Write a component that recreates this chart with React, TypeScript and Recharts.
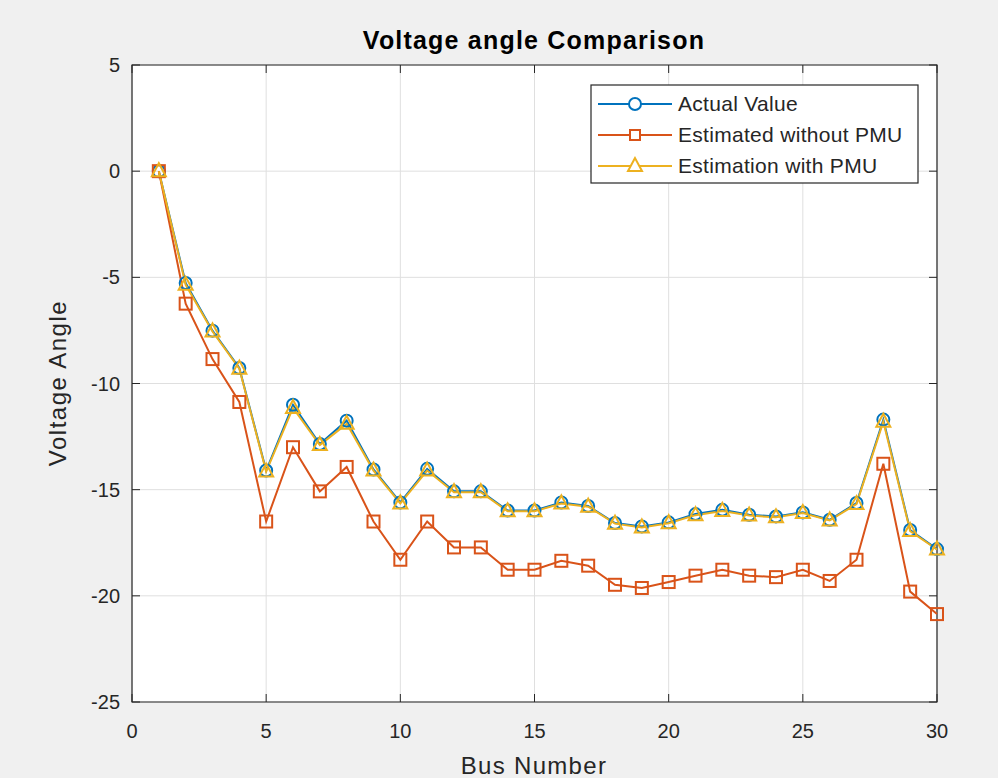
import { LineChart, Line, XAxis, YAxis, CartesianGrid, ReferenceArea } from "recharts";

const busNumbers = [1, 2, 3, 4, 5, 6, 7, 8, 9, 10, 11, 12, 13, 14, 15, 16, 17, 18, 19, 20, 21, 22, 23, 24, 25, 26, 27, 28, 29, 30];
const actualValue = [0, -5.27, -7.51, -9.27, -14.1, -11.0, -12.85, -11.75, -14.05, -15.6, -14.02, -15.08, -15.08, -15.98, -15.98, -15.6, -15.77, -16.57, -16.73, -16.54, -16.15, -15.95, -16.18, -16.26, -16.07, -16.42, -15.63, -11.7, -16.9, -17.8];
const estimatedWithoutPmu = [0, -6.24, -8.85, -10.87, -16.5, -13.0, -15.08, -13.93, -16.5, -18.3, -16.5, -17.72, -17.72, -18.77, -18.77, -18.35, -18.58, -19.48, -19.63, -19.35, -19.05, -18.77, -19.05, -19.12, -18.77, -19.3, -18.3, -13.78, -19.8, -20.86];
const estimationWithPmu = [0, -5.35, -7.55, -9.3, -14.15, -11.15, -12.9, -11.9, -14.1, -15.65, -14.1, -15.12, -15.12, -16.02, -16.02, -15.65, -15.8, -16.6, -16.78, -16.58, -16.2, -16.0, -16.22, -16.3, -16.1, -16.45, -15.68, -11.8, -16.95, -17.82];
const xTicks = [0, 5, 10, 15, 20, 25, 30];
const yTicks = [5, 0, -5, -10, -15, -20, -25];

const BLUE = "#0072BD";
const RED = "#D95319";
const YELLOW = "#EDB120";
const AXIS = "#262626";
const FONT = '"Liberation Sans", Arial, Helvetica, sans-serif';

// plot box (used only for the inward tick marks)
const PLOT_TOP = 65;
const PLOT_RIGHT = 937;

const data = busNumbers.map((bus, i) => ({
    bus,
    actual: actualValue[i],
    withoutPmu: estimatedWithoutPmu[i],
    withPmu: estimationWithPmu[i],
}));

const renderXTick = (p: any) => (
    <g key={`xt-${p.payload.value}`}>
        <line x1={p.x} y1={p.y} x2={p.x} y2={p.y - 8} stroke={AXIS} />
        <line x1={p.x} y1={PLOT_TOP} x2={p.x} y2={PLOT_TOP + 8} stroke={AXIS} />
        <text x={p.x} y={p.y + 36} textAnchor="middle" fontSize={20} fill={AXIS} fontFamily={FONT}>
            {p.payload.value}
        </text>
    </g>
);

const renderYTick = (p: any) => (
    <g key={`yt-${p.payload.value}`}>
        <line x1={p.x} y1={p.y} x2={p.x + 8} y2={p.y} stroke={AXIS} />
        <line x1={PLOT_RIGHT} y1={p.y} x2={PLOT_RIGHT - 8} y2={p.y} stroke={AXIS} />
        <text x={p.x - 12} y={p.y + 7} textAnchor="end" fontSize={20} fill={AXIS} fontFamily={FONT}>
            {p.payload.value}
        </text>
    </g>
);

const squareDot = (p: any) => (
    <rect key={`sq-${p.index}`} x={p.cx - 6} y={p.cy - 6} width={12} height={12} fill="none" stroke={RED} strokeWidth={2} />
);

const triangleDot = (p: any) => (
    <polygon
        key={`tr-${p.index}`}
        points={`${p.cx},${p.cy - 8} ${p.cx - 7},${p.cy + 5} ${p.cx + 7},${p.cy + 5}`}
        fill="none"
        stroke={YELLOW}
        strokeWidth={2}
    />
);

const legendItems = [
    { name: "Actual Value", color: BLUE, marker: "circle" },
    { name: "Estimated without PMU", color: RED, marker: "square" },
    { name: "Estimation with PMU", color: YELLOW, marker: "triangle" },
];

export default function App() {
    return (
        <div style={{ position: "absolute", left: 0, top: 0, width: 998, height: 778, background: "#f0f0f0", fontFamily: FONT }}>
            <LineChart width={998} height={778} data={data} margin={{ top: 65, right: 61, bottom: 36, left: 72 }}>
                <CartesianGrid stroke="#dfdfdf" fill="#ffffff" />
                <XAxis
                    dataKey="bus"
                    type="number"
                    domain={[0, 30]}
                    ticks={xTicks}
                    interval={0}
                    height={40}
                    tickSize={0}
                    tickMargin={0}
                    axisLine={false}
                    tickLine={false}
                    tick={renderXTick}
                />
                <YAxis
                    type="number"
                    domain={[-25, 5]}
                    ticks={yTicks}
                    interval={0}
                    width={60}
                    tickSize={0}
                    tickMargin={0}
                    axisLine={false}
                    tickLine={false}
                    tick={renderYTick}
                />
                <ReferenceArea x1={0} x2={30} y1={-25} y2={5} fill="none" stroke={AXIS} strokeWidth={1.2} />
                <Line
                    dataKey="actual"
                    stroke={BLUE}
                    strokeWidth={2}
                    dot={{ r: 6, fill: "none", stroke: BLUE, strokeWidth: 2 }}
                    isAnimationActive={false}
                />
                <Line dataKey="withoutPmu" stroke={RED} strokeWidth={2} dot={squareDot} isAnimationActive={false} />
                <Line dataKey="withPmu" stroke={YELLOW} strokeWidth={2} dot={triangleDot} isAnimationActive={false} />
            </LineChart>

            <svg width={998} height={778} style={{ position: "absolute", left: 0, top: 0, pointerEvents: "none" }}>
                {/* Title and axis labels */}
                <text x={534} y={49} textAnchor="middle" fontSize={25} fontWeight="bold" letterSpacing={1.2} fill="#000" fontFamily={FONT}>
                    Voltage angle Comparison
                </text>
                <text x={534} y={774} textAnchor="middle" fontSize={24} letterSpacing={1.3} fill={AXIS} fontFamily={FONT}>
                    Bus Number
                </text>
                <text
                    x={66}
                    y={383}
                    textAnchor="middle"
                    fontSize={24}
                    letterSpacing={1.5}
                    fill={AXIS}
                    fontFamily={FONT}
                    transform="rotate(-90, 66, 383)"
                >
                    Voltage Angle
                </text>

                {/* Legend */}
                <rect x={591} y={85} width={327} height={98} fill="#fff" stroke={AXIS} strokeWidth={1.2} />
                {legendItems.map((item, i) => {
                    const cy = 104 + i * 31;
                    return (
                        <g key={item.name}>
                            <line x1={598} y1={cy} x2={672} y2={cy} stroke={item.color} strokeWidth={2} />
                            {item.marker === "circle" && <circle cx={635} cy={cy} r={6} fill="#fff" stroke={item.color} strokeWidth={2} />}
                            {item.marker === "square" && (
                                <rect x={630} y={cy - 5} width={10} height={10} fill="#fff" stroke={item.color} strokeWidth={2} />
                            )}
                            {item.marker === "triangle" && (
                                <polygon
                                    points={`635,${cy - 8} 628,${cy + 5} 642,${cy + 5}`}
                                    fill="#fff"
                                    stroke={item.color}
                                    strokeWidth={2}
                                />
                            )}
                            <text x={678} y={cy + 7} fontSize={21} letterSpacing={0.3} fill={AXIS} fontFamily={FONT}>
                                {item.name}
                            </text>
                        </g>
                    );
                })}
            </svg>
        </div>
    );
}
